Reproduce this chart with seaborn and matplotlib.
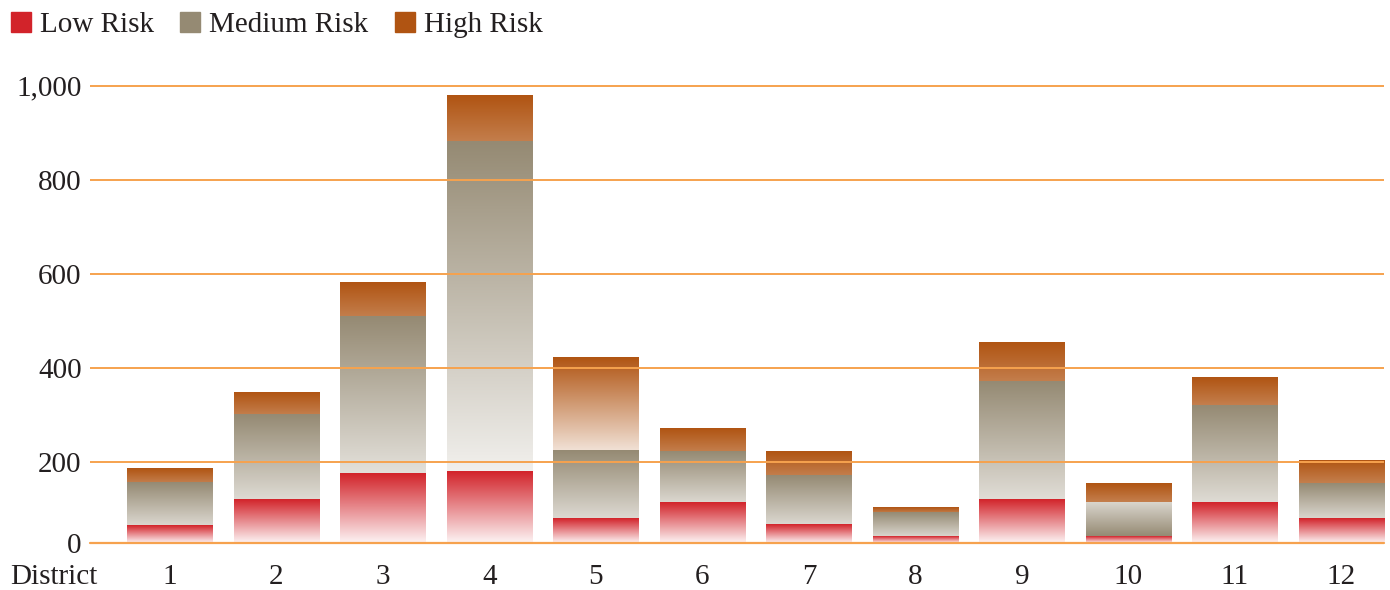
import numpy as np
import pandas as pd
import matplotlib
matplotlib.use('Agg')
import matplotlib.pyplot as plt
import seaborn as sns
from matplotlib.colors import to_rgb
from matplotlib.lines import Line2D

# data
districts = ['1', '2', '3', '4', '5', '6', '7', '8', '9', '10', '11', '12']
low_risk = [66, 121, 175, 181, 81, 115, 68, 43, 121, 43, 115, 81]
medium_risk = [90, 179, 334, 699, 144, 107, 102, 49, 250, 72, 206, 74]
high_risk = [31, 47, 74, 98, 196, 50, 51, 12, 84, 40, 58, 48]
y_ticks = [200, 400, 600, 800, 1000]
y_tick_labels = ['200', '400', '600', '800', '1,000']

red = '#d2232a'
gray = '#958a73'
orange = '#b05412'
grid_col = '#f6a24e'
text_col = '#231f20'

df = pd.DataFrame({'District': districts, 'Low': low_risk,
                   'Medium': medium_risk, 'High': high_risk})
df['low_top'] = df['Low']
df['mid_top'] = df['Low'] + df['Medium']
df['high_top'] = df['mid_top'] + df['High']

sns.set_theme(style='white')
plt.rcParams['font.family'] = ['Liberation Serif', 'DejaVu Serif']

fig = plt.figure(figsize=(13.9, 5.9), dpi=100)
ax = fig.add_axes([90 / 1390, 1 - 543 / 590, 1294 / 1390, (543 - 71.4) / 590])

y_lo, y_hi = 28.3, 1030


def gradient(color, fade, flip=False, n=256):
    rgb = np.array(to_rgb(color))
    t = np.linspace(fade, 0, n)  # bottom row first
    if flip:
        t = t[::-1]
    cols = rgb[None, :] * (1 - t[:, None]) + t[:, None]
    return cols[:, None, :]


layers = [
    ('High', 'mid_top', 'high_top', orange),
    ('Medium', 'low_top', 'mid_top', gray),
    ('Low', None, 'low_top', red),
]

for name, bot_col, top_col, color in layers:
    n0 = len(ax.patches)
    sns.barplot(data=df, x='District', y=top_col, color=color, width=0.8,
                saturation=1, ax=ax)
    for i, patch in enumerate(ax.patches[n0:]):
        x0, w = patch.get_x(), patch.get_width()
        top = df[top_col].iloc[i]
        bottom = df[bot_col].iloc[i] if bot_col else y_lo
        h = df[name].iloc[i]
        if name == 'High':
            fade = 0.82 if h > 150 else 0.25
        elif name == 'Medium':
            fade = min(0.88, 0.62 + h / 2800)
        else:
            fade = 0.95
        flip = (name == 'Medium' and i == 9)
        ax.imshow(gradient(color, fade, flip), extent=[x0, x0 + w, bottom, top],
                  origin='lower', aspect='auto', interpolation='bilinear', zorder=1)
        patch.set_visible(False)

ax.set_xlim(-0.75, 11.4)
ax.set_ylim(y_lo, y_hi)
ax.set_yticks([y_lo] + y_ticks)
ax.set_yticklabels(['0'] + y_tick_labels)
ax.set_axisbelow(False)
ax.grid(axis='y', color=grid_col, linewidth=1.4)
ax.grid(axis='x', visible=False)
ax.axhline(y_lo, color=grid_col, linewidth=1.6, clip_on=False, zorder=3)
for s in ax.spines.values():
    s.set_visible(False)
ax.tick_params(axis='y', length=0, pad=6, labelsize=21, labelcolor=text_col)
ax.tick_params(axis='x', length=0, pad=15, labelsize=21, labelcolor=text_col)
ax.set_xlabel('')
ax.set_ylabel('')

fig.text(10 / 1390, 1 - 577 / 590, 'District', ha='left', va='center',
         fontsize=21, color=text_col)

handles = [Line2D([], [], marker='s', linestyle='none', markersize=14.5, color=c)
           for c in (red, gray, orange)]
fig.legend(handles, ['Low Risk', 'Medium Risk', 'High Risk'], loc='upper left',
           bbox_to_anchor=(9 / 1390, 1 - 12 / 590), ncol=3, frameon=False,
           fontsize=21, handlelength=0.8, handletextpad=0.25, columnspacing=0.85,
           borderaxespad=0, borderpad=0, labelcolor=text_col)

fig.savefig('out.png', dpi=100)
